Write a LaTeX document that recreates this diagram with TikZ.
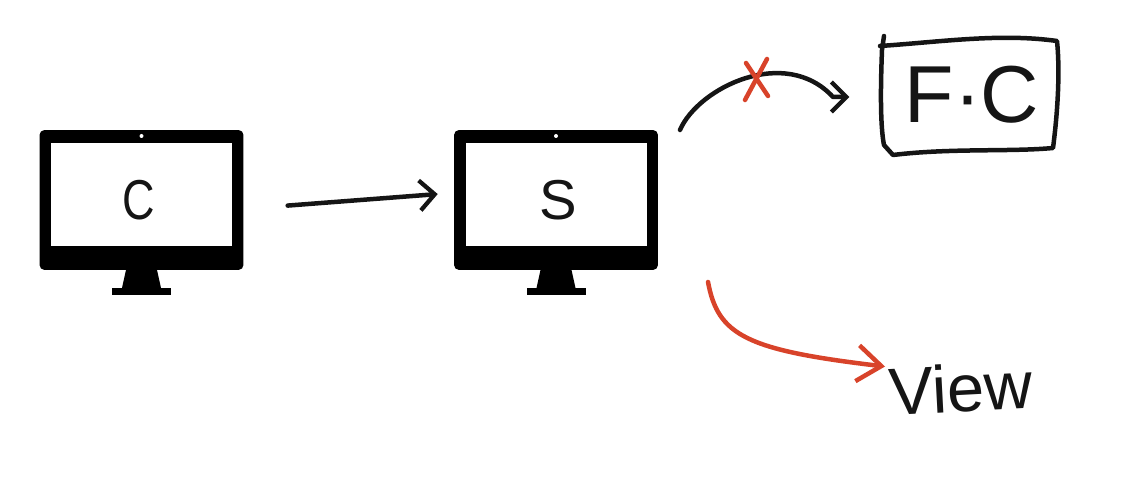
\documentclass[tikz,border=0pt]{standalone}
\usepackage{fontspec}
\setmainfont{Liberation Sans}
\usetikzlibrary{arrows.meta}
\definecolor{penred}{HTML}{D8432A}
\definecolor{penblack}{HTML}{151515}
\tikzset{
    screenbody/.style={fill=black, rounded corners=0.1cm, minimum width=4.08cm, minimum height=2.8cm, inner sep=0},
    handline/.style={line width=0.09cm, line cap=round, line join=round},
    handarrow/.style={handline, -{Straight Barb[length=0.3cm, width=0.6cm, line width=0.085cm]}},
    redarrow/.style={handline, -{Straight Barb[length=0.48cm, width=0.72cm, line width=0.09cm]}},
    handtext/.style={inner sep=0, text=penblack}
}
\begin{document}
\begin{tikzpicture}[x=0.02cm, y=-0.02cm]
    \useasboundingbox (0,0) rectangle (1130,482);

    % Monitors
    \foreach \name/\x/\lbl/\lx/\sx in {pcC/141.5/C/139/0.8, pcS/556/S/558/1} {
        \node[screenbody] (\name) at (\x, 200) {};
        \fill[white] (\x-90.5, 143) rectangle (\x+90.5, 246);
        \fill[white] (\x, 136) circle (2);
        \fill[black] (\x-15.5, 270) -- (\x+15.5, 270) -- (\x+19.5, 288) -- (\x-19.5, 288) -- cycle;
        \fill[black] (\x-29.5, 288) rectangle (\x+29.5, 295);
        \node[handtext, font=\fontsize{32}{32}\selectfont] (label\name) at (\lx, 200) {\scalebox{\sx}[1]{\lbl}};
    }

    % Targets
    \node[handtext, font=\fontsize{46}{46}\selectfont] (fcBox) at (972, 95) {F·C};
    \node[handtext, font=\fontsize{38}{38}\selectfont, rotate=3] (viewText) at (961, 388) {View};

    % Outline of the box
    \draw[handline, penblack] (884,36) -- (882,50) .. controls (880,100) and (881,130) .. (884,145)
        -- (893,155) .. controls (950,148) and (1010,152) .. (1053,148)
        .. controls (1058,110) and (1060,70) .. (1057,41)
        .. controls (1000,33) and (940,42) .. (880,46);

    % Arrows
    \coordinate (serverOut) at (680,130);
    \coordinate (serverDown) at (708,282);

    \draw[handarrow, penblack, shorten <=0.88cm, shorten >=0.32cm] (pcC.-5) -- (pcS.176.5);
    \draw[handarrow, penblack, shorten >=1.1cm] (serverOut) .. controls (698,88) and (785,45) .. (833,97) -- (fcBox.west |- 0,97);
    \draw[redarrow, penred, shorten >=0.08cm] (serverDown) .. controls (718,335) and (745,350) .. (viewText.west |- 0,367);

    % Crossing mark
    \draw[handline, penred] (746,63) -- (768,96);
    \draw[handline, penred] (767,59) -- (745,100);
\end{tikzpicture}
\end{document}
